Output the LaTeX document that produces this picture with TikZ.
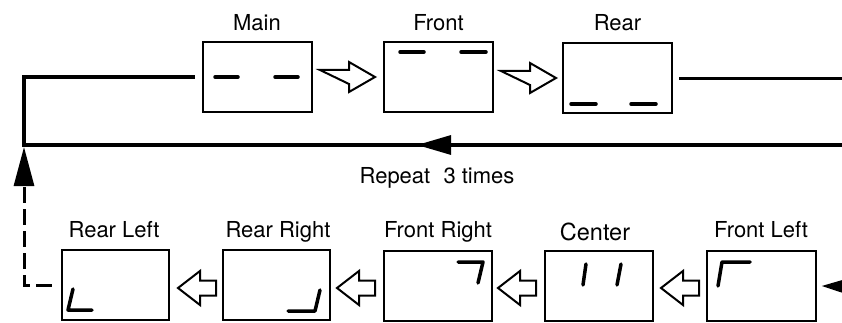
\documentclass[tikz,border=0pt]{standalone}
\usepackage{fontspec}
\setmainfont{TeX Gyre Heros}
\usetikzlibrary{arrows.meta,decorations.markings}
\begin{document}
\begin{tikzpicture}[x=1pt,y=-1pt,
  box/.style={draw,line width=2pt,minimum width=109pt,minimum height=70pt,inner sep=0pt},
  lbl/.style={font=\fontsize{22}{26}\selectfont,inner sep=0pt,anchor=base},
  seg/.style={line width=3.5pt,line cap=round,line join=round},
  loopline/.style={line width=3.2pt},
  hollow/.style={draw,line width=2pt,fill=white,line join=miter},
  rarr/.pic={\draw[hollow] (0,-7) -- (29,-7) -- (29,-15) -- (55,0) -- (29,15) -- (29,7) -- cycle;},
  larr/.pic={\draw[hollow] (0,0) -- (22,-17) -- (22,-7.5) -- (38,-7.5) -- (38,7.5) -- (22,7.5) -- (22,17) -- cycle;}]
\clip (0,0) rectangle (842,323);
\fill[white] (0,0) rectangle (842,323);

% top row boxes
\node[box] (Main)  at (257,77) {};
\node[box] (Front) at (438.5,77) {};
\node[box] (Rear)  at (617.5,78.5) {};
\node[lbl] (tMain)  at (257,31) {Main};
\node[lbl] (tFront) at (438.5,31) {Front};
\node[lbl] (tRear)  at (617.5,31) {Rear};

% bottom row boxes
\node[box,minimum width=107pt] (RL) at (115,285) {};
\node[box,minimum width=107pt] (RR) at (276,285) {};
\node[box,minimum width=108pt] (FR) at (437.5,286) {};
\node[box,minimum width=108pt] (CE) at (599,286) {};
\node[box,minimum width=109pt] (FL) at (761,286) {};
\node[lbl] (tRL) at (114,237) {Rear Left};
\node[lbl] (tRR) at (278,237) {Rear Right};
\node[lbl] (tFR) at (438,237) {Front Right};
\node[lbl,font=\fontsize{23.5}{28}\selectfont] (tCE) at (595,240) {Center};
\node[lbl] (tFL) at (761,237) {Front Left};

\node[lbl] (tRep) at (437,183) {Repeat\hspace{0.6em}3 times};

% hollow block arrows
\pic (a1) at (320,77) {rarr};
\pic (a2) at (501,78) {rarr};
\pic (b1) at (178,288) {larr};
\pic (b2) at (337,288) {larr};
\pic (b3) at (498,288) {larr};
\pic (b4) at (661,288) {larr};

% loop lines
\coordinate (eR1) at (860,78.5);
\coordinate (eR2) at (860,145);
\coordinate (cBL) at (24,145);
\coordinate (cTL) at (24,77);
\coordinate (cDL) at (24,285);
\coordinate (cDT) at (24,147);
\coordinate (eR3) at (880,287);
\draw[loopline] ([xshift=6pt]Rear.east) -- (eR1);
\draw[loopline,line join=miter,
  postaction={decorate},
  decoration={markings,mark=at position 443pt with {\arrow{Triangle[length=34pt,width=19pt]}}}]
  (eR2) -- (cBL) -- (cTL) -- ([xshift=-7pt]Main.west);
\draw[loopline,line width=3pt,dash pattern=on 16pt off 6pt,-{Triangle[length=39pt,width=20pt]}]
  ([xshift=-9pt]RL.west) -- (cDL) -- (cDT);
\draw[loopline,-{Triangle[length=34pt,width=20pt]}] (eR3) -- ([xshift=5pt]FL.east);

% display segments
\draw[seg] (215,77) -- (238,77);
\draw[seg] (275,77) -- (298,77);
\draw[seg] (400,52) -- (424,52);
\draw[seg] (461,52) -- (486,52);
\draw[seg] (571,104) -- (596,104);
\draw[seg] (631,104) -- (656,104);
\draw[seg] (73,289) -- (68,310) -- (92,310);
\draw[seg] (288,311) -- (315,311) -- (320,290);
\draw[seg] (458,262) -- (483,262) -- (478,283);
\draw[seg] (586,264) -- (583,285);
\draw[seg] (621,264) -- (617,285);
\draw[seg] (718,286) -- (722,262) -- (750,262);
\end{tikzpicture}
\end{document}
